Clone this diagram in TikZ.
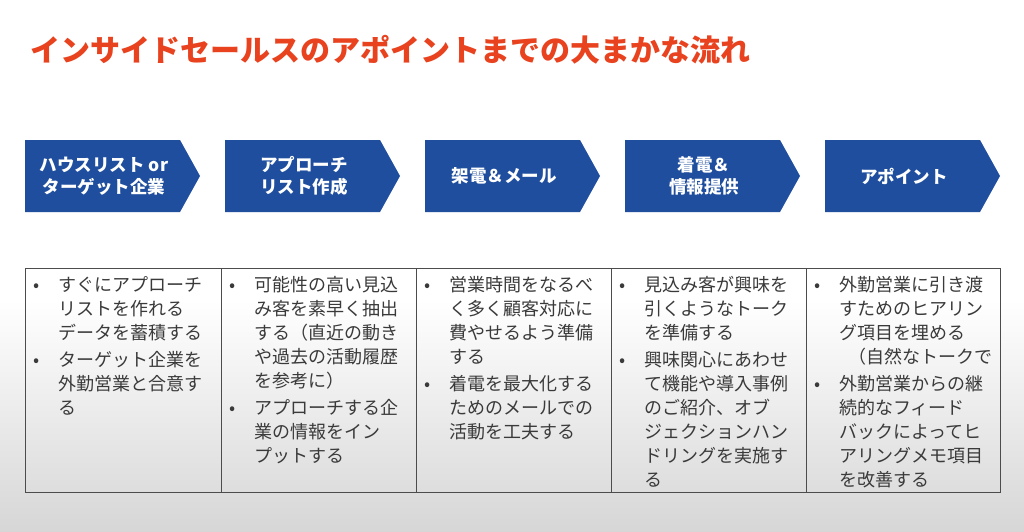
\documentclass[tikz,border=0pt]{standalone}
\usepackage{fontspec}
\setmainfont{Noto Sans CJK JP}
\usetikzlibrary{shapes.symbols}
\definecolor{ttl}{HTML}{E8421E}
\definecolor{blu}{HTML}{1F4E9E}
\definecolor{txt}{HTML}{3A3A3A}
\newcommand{\bl}{\textbullet}
\begin{document}
\begin{tikzpicture}[x=1pt,y=-1pt,
  chev/.style={fill=blu},
  ctext/.style={text=white,font=\fontsize{17.5}{22}\selectfont\bfseries,align=center},
  cell/.style={anchor=north west,inner sep=0pt,text=txt,font=\fontsize{18}{24}\selectfont}]
\useasboundingbox (0,0) rectangle (1024,532);
\shade[top color=white,bottom color=black!16] (0,300) rectangle (1024,532);
\fill[white] (0,0) rectangle (1024,300);
\node[anchor=west,text=ttl,font=\fontsize{30}{34}\selectfont\bfseries,inner sep=0pt] (title) at (30,50) {インサイドセールスのアポイントまでの大まかな流れ};
\foreach \i/\t in {0/{ハウスリスト or\\ターゲット企業},1/{アプローチ\\リスト作成},2/{架電＆メール},3/{着電＆\\情報提供},4/{アポイント}}{
  \fill[chev] (25+200*\i,140) -- (180+200*\i,140) -- (200+200*\i,176) -- (180+200*\i,212) -- (25+200*\i,212) -- cycle;
  \node[ctext] (c\i) at (104+200*\i,176) {\t};
}
\draw[black!70,line width=0.8pt] (25,268) rectangle (1000,492);
\foreach \x in {221,416,611,806}{\draw[black!70,line width=0.8pt] (\x,268) -- (\x,492);}
\newcommand{\tb}[1]{\begin{tabular}{@{}l@{\hspace{19pt}}l@{}}#1\end{tabular}}
\node[cell] (t1) at (33,274) {\tb{\bl&すぐにアプローチ\\&リストを作れる\\&データを蓄積する\\[3pt]\bl&ターゲット企業を\\&外勤営業と合意す\\&る}};
\node[cell] (t2) at (229,274) {\tb{\bl&可能性の高い見込\\&み客を素早く抽出\\&する（直近の動き\\&や過去の活動履歴\\&を参考に）\\[3pt]\bl&アプローチする企\\&業の情報をイン\\&プットする}};
\node[cell] (t3) at (424,274) {\tb{\bl&営業時間をなるべ\\&く多く顧客対応に\\&費やせるよう準備\\&する\\[3pt]\bl&着電を最大化する\\&ためのメールでの\\&活動を工夫する}};
\node[cell] (t4) at (619,274) {\tb{\bl&見込み客が興味を\\&引くようなトーク\\&を準備する\\[3pt]\bl&興味関心にあわせ\\&て機能や導入事例\\&のご紹介、オブ\\&ジェクションハン\\&ドリングを実施す\\&る}};
\node[cell] (t5) at (814,274) {\tb{\bl&外勤営業に引き渡\\&すためのヒアリン\\&グ項目を埋める\\&\hspace{0.5em}（自然なトークで\\[3pt]\bl&外勤営業からの継\\&続的なフィード\\&バックによってヒ\\&アリングメモ項目\\&を改善する}};
\end{tikzpicture}
\end{document}
